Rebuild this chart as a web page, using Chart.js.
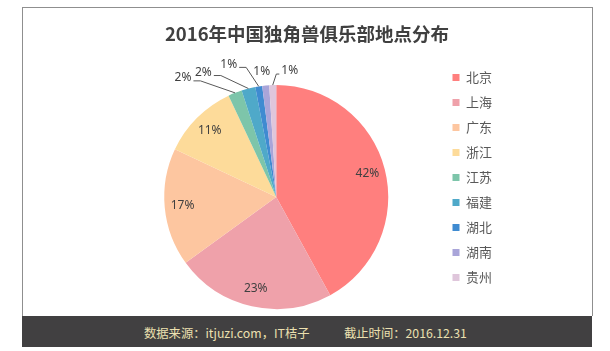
<!DOCTYPE html>
<html>
<head>
<meta charset="utf-8">
<script src="https://cdn.jsdelivr.net/npm/chart.js@4/dist/chart.umd.min.js"></script>
<style>
html,body{margin:0;padding:0;background:#fff;width:610px;height:351px;overflow:hidden;font-family:"Noto Sans CJK SC","Noto Sans",sans-serif;}
#box{position:absolute;left:22px;top:7px;width:569px;height:308px;border:1px solid #8f8f8f;border-bottom:none;background:#fff;}
#chart{position:absolute;left:0;top:0;}
#footer{position:absolute;z-index:2;left:22px;top:316px;width:570px;height:31px;background:#414041;color:#ECE0B0;font-size:12.3px;line-height:31px;}
#footer span{position:absolute;top:2px;white-space:nowrap;}
</style>
</head>
<body>
<div id="box"><canvas id="chart" width="568" height="340"></canvas></div>
<div id="footer"><span id="f1" style="left:122px;">数据来源：itjuzi.com，IT桔子</span><span id="f2" style="left:322px;">截止时间：2016.12.31</span></div>
<script>
const titleText = "2016年中国独角兽俱乐部地点分布";
const provinces = ["北京","上海","广东","浙江","江苏","福建","湖北","湖南","贵州"];
const shares = [42, 23, 17, 11, 2, 2, 1, 1, 1];
const sliceColors = ["#FF7F7E","#EFA1AA","#FDC6A0","#FDDB9A","#7DC5AA","#4FA9C9","#3F8BD1","#A9A5D9","#DFC6DB"];
// outside label offsets (from slice outer edge point), used only for small slices
const outsideOffsets = [null,null,null,null,[-52,-15],[-45,-16],[-30,-22],[-4,-14],[17,-14]];

const pctLabels = {
  id: 'pctLabels',
  afterDatasetsDraw(chart) {
    const ctx = chart.ctx;
    const meta = chart.getDatasetMeta(0);
    ctx.save();
    ctx.font = '12px "Noto Sans", "DejaVu Sans", sans-serif';
    ctx.fillStyle = '#404040';
    ctx.textBaseline = 'middle';
    meta.data.forEach((arc, i) => {
      const p = arc.getProps(['x','y','startAngle','endAngle','outerRadius'], true);
      const mid = (p.startAngle + p.endAngle) / 2;
      const txt = shares[i] + '%';
      if (!outsideOffsets[i]) {
        const r = p.outerRadius * 0.84;
        ctx.textAlign = 'center';
        ctx.fillText(txt, p.x + Math.cos(mid) * r, p.y + Math.sin(mid) * r);
      } else {
        const ex = p.x + Math.cos(mid) * p.outerRadius;
        const ey = p.y + Math.sin(mid) * p.outerRadius;
        const off = outsideOffsets[i];
        const lx = ex + off[0], ly = ey + off[1];
        const w = ctx.measureText(txt).width;
        ctx.textAlign = 'center';
        ctx.fillText(txt, lx, ly);
        ctx.strokeStyle = '#595959';
        ctx.lineWidth = 1;
        ctx.beginPath();
        if (off[0] < -10) {
          ctx.moveTo(lx + w / 2 + 2, ly + 3);
          ctx.lineTo(lx + w / 2 + 9, ly + 3);
          ctx.lineTo(ex, ey);
          ctx.stroke();
        } else if (off[0] > 10) {
          ctx.moveTo(lx - w / 2 - 2, ly + 3);
          ctx.lineTo(lx - w / 2 - 5, ly + 3);
          ctx.lineTo(ex, ey);
          ctx.stroke();
        }
      }
    });
    ctx.restore();
  }
};

new Chart(document.getElementById('chart'), {
  type: 'pie',
  data: {
    labels: provinces,
    datasets: [{
      data: shares,
      backgroundColor: sliceColors,
      borderWidth: 0,
      radius: 112
    }]
  },
  options: {
    responsive: false,
    animation: false,
    layout: { padding: { left: 89, right: 89, top: 0, bottom: 13 } },
    plugins: {
      title: {
        display: true,
        text: titleText,
        color: '#404040',
        font: { family: '"Noto Sans CJK SC", sans-serif', size: 18.5, weight: 'bold', lineHeight: 1.2 },
        padding: { top: 15, bottom: 13.8 }
      },
      legend: {
        display: true,
        position: 'right',
        align: 'start',
        fullSize: false,
        labels: {
          boxWidth: 7,
          boxHeight: 7,
          padding: 12,
          color: '#595959',
          font: { family: '"Noto Sans CJK SC", sans-serif', size: 13 }
        }
      },
      tooltip: { enabled: false }
    }
  },
  plugins: [pctLabels]
});
</script>
</body>
</html>
